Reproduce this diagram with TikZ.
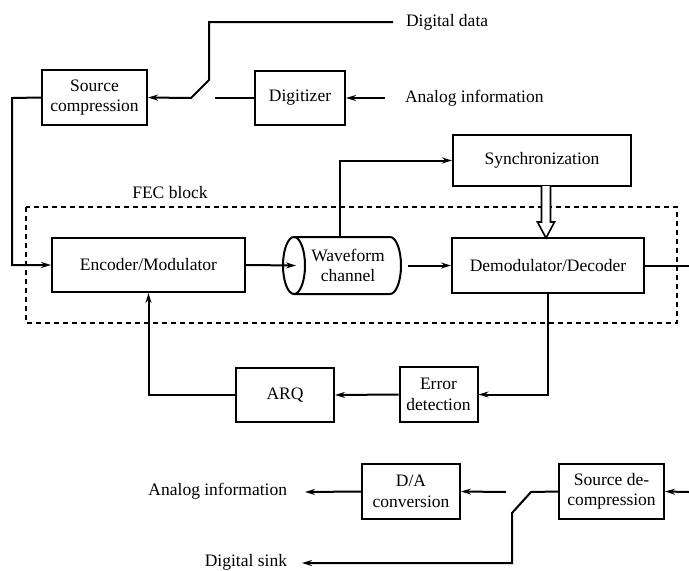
\documentclass[tikz,border=0pt]{standalone}
\usepackage{fontspec}
\setmainfont{Liberation Serif}
\usetikzlibrary{arrows.meta}
\begin{document}
\begin{tikzpicture}[x=1pt,y=-1pt,
  font=\fontsize{17.5}{20.5}\selectfont,
  line width=2pt,
  blk/.style={draw, rectangle, align=center, inner sep=0pt, line width=2pt},
  lbl/.style={inner sep=0pt},
  arr/.style={-{Stealth[length=10pt,width=6pt]}},
  fec/.style={line width=1.6pt, dash pattern=on 5pt off 4pt}
]
\useasboundingbox (0,0) rectangle (689,571);

% dashed FEC box
\draw[fec] (26,207) rectangle (677,323);
\node[lbl] (fectext) at (170,193) {FEC block};

% blocks
\node[blk, minimum width=105pt, minimum height=55pt] (srccomp) at (94.5,97.5) {Source\\compression};
\node[blk, minimum width=90pt, minimum height=54pt] (digit) at (300,98) {Digitizer};
\node[blk, minimum width=178pt, minimum height=51pt] (sync) at (542,160.5) {Synchronization};
\node[blk, fill=white, minimum width=193pt, minimum height=54pt] (enc) at (148.5,265) {Encoder/Modulator};
\node[blk, fill=white, minimum width=192pt, minimum height=55pt] (demod) at (548,265.5) {Demodulator/Decoder};
\node[blk, minimum width=78pt, minimum height=55pt] (errdet) at (438.5,394.5) {Error\\detection};
\node[blk, minimum width=98pt, minimum height=54pt] (arq) at (285,395) {ARQ};
\node[blk, minimum width=98pt, minimum height=55pt] (da) at (411,491.5) {D/A\\conversion};
\node[blk, minimum width=105pt, minimum height=55pt] (srcdec) at (611.5,491.5) {Source de-\\compression};

% waveform channel cylinder
\fill[white] (294,237) -- (390,237) arc[start angle=-90,end angle=90,x radius=11,y radius=28.5] -- (294,294) -- cycle;
\draw (294,237) -- (390,237) arc[start angle=-90,end angle=90,x radius=11,y radius=28.5] -- (294,294);
\draw (294,265.5) ellipse[x radius=11, y radius=28.5];
\node[lbl, minimum width=118pt, minimum height=57pt, align=center] (chan) at (348,265.5) {Waveform\\channel};
\coordinate (chanin) at (296,265.5);
\coordinate (chantop) at (340,237);

% top text
\node[lbl, anchor=west] (ddtext) at (405,22) {Digital data};
\node[lbl, anchor=west] (aitext) at (404,98) {Analog information};
\coordinate (ddend) at (393,22);
\coordinate (swC) at (209,22);
\coordinate (swB) at (209,80);
\coordinate (swA) at (191,98);
\coordinate (digend) at (215,98);
\coordinate (aistart) at (385,98);
\coordinate (lft1) at (12,98);
\coordinate (lft2) at (12,265);

\draw[arr] (ddend) -- (swC) -- (swB) -- (swA) -- (srccomp.east);
\draw (digit.west) -- (digend);
\draw[arr] (aistart) -- (digit.east);
\draw[arr] (srccomp.west) -- (lft1) -- (lft2) -- (enc.west);

% channel
\draw[arr] (enc.east) -- (chanin);
\draw[arr] (chan.east) -- (demod.west);
\draw[arr] (chantop) |- (sync.west);
\coordinate (rightend) at (689,265.5);
\draw (demod.east) -- (rightend);

% hollow sync arrow
\draw[line width=1.6pt, fill=white, line join=miter]
  (541.5,186) -- (541.5,222) -- (537.5,222) -- (546,238) -- (554.5,222) -- (550.5,222) -- (550.5,186);

% feedback
\draw[arr] (demod.south) |- (errdet.east);
\draw[arr] (errdet.west) -- (arq.east);
\draw[arr] (arq.west) -| (enc.south);

% bottom
\coordinate (rin) at (689,492);
\draw[arr] (rin) -- (srcdec.east);
\coordinate (bA) at (531,492);
\coordinate (bB) at (512,513);
\coordinate (bC) at (512,563);
\coordinate (dsend) at (302,563);
\coordinate (dastart) at (506,492);
\coordinate (aiend) at (305,492);
\node[lbl, anchor=east] (dstext) at (288,562) {Digital sink};
\node[lbl, anchor=east] (ai2text) at (288,491) {Analog information};
\draw[arr] (srcdec.west) -- (bA) -- (bB) -- (bC) -- (dsend);
\draw[arr] (dastart) -- (da.east);
\draw[arr] (da.west) -- (aiend);
\end{tikzpicture}
\end{document}
